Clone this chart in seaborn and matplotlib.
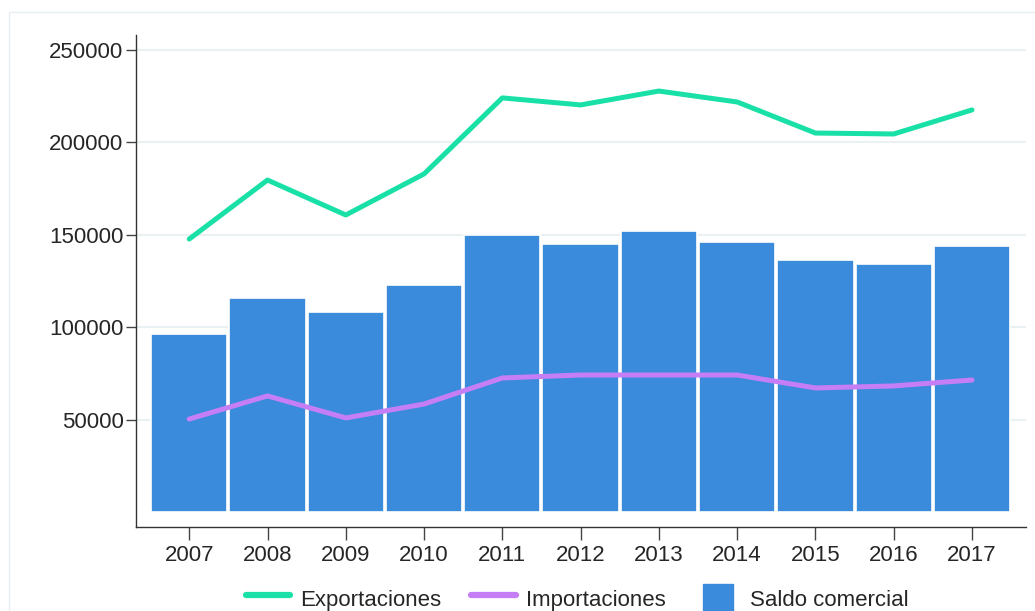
import matplotlib
matplotlib.use("Agg")
import matplotlib.pyplot as plt
import seaborn as sns
import pandas as pd
from matplotlib.lines import Line2D
from matplotlib.patches import Rectangle, Patch
from matplotlib.legend_handler import HandlerPatch

years = [2007, 2008, 2009, 2010, 2011, 2012, 2013, 2014, 2015, 2016, 2017]
exportaciones = [147800, 179700, 160800, 183000, 224100, 220300, 227800, 221900, 205100, 204600, 217600]
importaciones = [50500, 63000, 51100, 58600, 72700, 74300, 74300, 74300, 67300, 68400, 71600]
saldo = [96500, 116000, 108400, 123000, 150000, 145100, 152200, 146200, 136500, 134300, 144000]
yticks = [50000, 100000, 150000, 200000, 250000]

c_exp = "#19e0a6"
c_imp = "#c67ef6"
c_bar = "#3a8bdc"
c_grid = "#eaf1f3"

sns.set_style("white")
plt.rcParams["font.family"] = ["Liberation Sans", "DejaVu Sans"]

fig = plt.figure(figsize=(10.35, 6.11), dpi=100)
fig.patches.append(Rectangle((9 / 1035, -0.1), 1.2, (611 - 12) / 611 + 0.1,
                             transform=fig.transFigure, fill=False,
                             edgecolor="#e6eef0", linewidth=1.0, zorder=0))
ax = fig.add_axes([136 / 1035, (611 - 526.7) / 611, (1026 - 136) / 1035, (526.7 - 35) / 611])

df = pd.DataFrame({"year": years, "exp": exportaciones, "imp": importaciones, "saldo": saldo})

sns.barplot(data=df, x="year", y="saldo", native_scale=True, width=0.975,
            color=c_bar, saturation=1, edgecolor="white", linewidth=1.2, ax=ax, zorder=2)
sns.lineplot(data=df, x="year", y="exp", color=c_exp, linewidth=3.6, ax=ax, zorder=3)
sns.lineplot(data=df, x="year", y="imp", color=c_imp, linewidth=3.6, ax=ax, zorder=3)

ax.set_xlim(2006.32, 2017.69)
ax.set_ylim(-7700, 258100)
ax.set_yticks(yticks)
ax.set_yticklabels([str(v) for v in yticks])
ax.set_xticks(years)
ax.set_xticklabels([str(y) for y in years])
ax.set_xlabel("")
ax.set_ylabel("")
ax.grid(axis="y", color=c_grid, linewidth=1.5, zorder=0)
ax.set_axisbelow(True)
for s in ["top", "right"]:
    ax.spines[s].set_visible(False)
for s in ["left", "bottom"]:
    ax.spines[s].set_color("#333333")
    ax.spines[s].set_linewidth(1.0)
ax.tick_params(axis="y", length=7, width=1, color="#444444", labelsize=16, pad=2, left=True)
ax.tick_params(axis="x", length=9, width=1, color="#444444", labelsize=16, pad=4, bottom=True)


def square_patch(legend, orig_handle, xdescent, ydescent, width, height, fontsize):
    side = height
    return Rectangle((-xdescent + (width - side) / 2, -ydescent), side, side)


handles = [Line2D([0], [0], color=c_exp, lw=4.5),
           Line2D([0], [0], color=c_imp, lw=4.5),
           Patch(facecolor=c_bar, edgecolor=c_bar)]
labels = ["Exportaciones", "Importaciones", "Saldo comercial"]
fig.legend(handles, labels, loc="center", bbox_to_anchor=(577 / 1035, (611 - 599) / 611), ncol=3,
           frameon=False, fontsize=16, handlelength=2.0, handleheight=1.7,
           columnspacing=1.35, handletextpad=0.45,
           handler_map={Patch: HandlerPatch(patch_func=square_patch)})

fig.savefig("out.png", dpi=100)
